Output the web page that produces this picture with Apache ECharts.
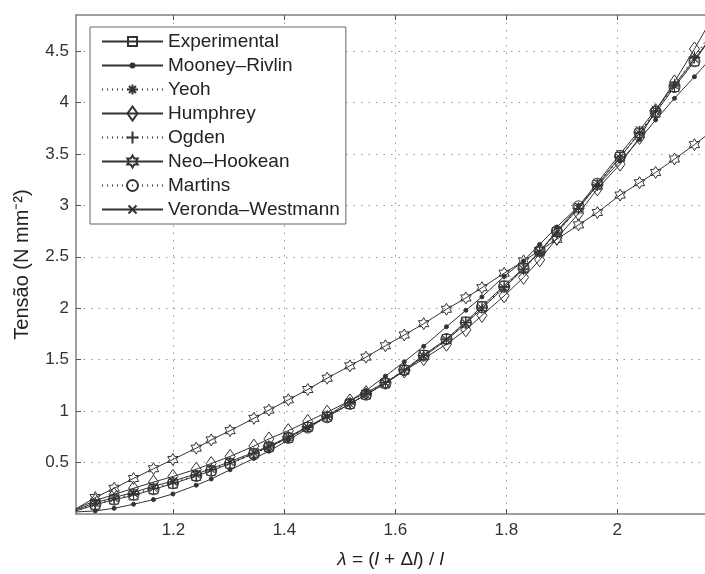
<!DOCTYPE html>
<html>
<head>
<meta charset="utf-8">
<script src="https://cdn.jsdelivr.net/npm/echarts@6/dist/echarts.min.js"></script>
<style>
html, body { margin: 0; padding: 0; background: #fff; }
#chart { width: 705px; height: 574px; }
</style>
</head>
<body>
<div id="chart"></div>
<script>
// stretch values (x) shared by all series
var lambda = [1.024, 1.059, 1.093, 1.128, 1.164, 1.199, 1.241, 1.268, 1.302, 1.345, 1.372, 1.407, 1.442, 1.477, 1.518, 1.547, 1.582, 1.616, 1.651, 1.692, 1.727, 1.756, 1.796, 1.831, 1.860, 1.891, 1.930, 1.964, 2.005, 2.040, 2.069, 2.103, 2.139, 2.175];

var experimental = [0.03, 0.09, 0.14, 0.18, 0.24, 0.295, 0.37, 0.42, 0.49, 0.59, 0.65, 0.74, 0.845, 0.945, 1.07, 1.16, 1.27, 1.40, 1.545, 1.70, 1.87, 2.02, 2.22, 2.39, 2.55, 2.74, 2.97, 3.20, 3.47, 3.70, 3.90, 4.15, 4.40, 4.68];
var mooneyRivlin = [0.02, 0.03, 0.055, 0.095, 0.14, 0.195, 0.28, 0.34, 0.43, 0.54, 0.61, 0.72, 0.83, 0.95, 1.10, 1.20, 1.34, 1.48, 1.63, 1.82, 1.98, 2.11, 2.31, 2.46, 2.62, 2.79, 2.99, 3.19, 3.43, 3.64, 3.83, 4.04, 4.25, 4.47];
var yeoh = [0.04, 0.10, 0.15, 0.20, 0.25, 0.31, 0.38, 0.43, 0.50, 0.59, 0.65, 0.74, 0.84, 0.94, 1.07, 1.16, 1.28, 1.40, 1.54, 1.70, 1.86, 2.00, 2.20, 2.38, 2.54, 2.73, 2.97, 3.19, 3.46, 3.70, 3.91, 4.16, 4.43, 4.72];
var humphrey = [0.05, 0.13, 0.19, 0.25, 0.31, 0.365, 0.435, 0.49, 0.56, 0.66, 0.73, 0.81, 0.90, 0.99, 1.10, 1.18, 1.28, 1.39, 1.51, 1.65, 1.79, 1.93, 2.12, 2.30, 2.47, 2.68, 2.92, 3.16, 3.40, 3.66, 3.92, 4.20, 4.52, 4.86];
var ogden = [0.03, 0.10, 0.15, 0.19, 0.25, 0.30, 0.37, 0.43, 0.50, 0.59, 0.66, 0.75, 0.85, 0.95, 1.08, 1.17, 1.28, 1.40, 1.54, 1.70, 1.86, 2.01, 2.21, 2.38, 2.55, 2.74, 2.97, 3.20, 3.47, 3.71, 3.92, 4.17, 4.44, 4.73];
var neoHookean = [0.05, 0.16, 0.25, 0.345, 0.44, 0.53, 0.64, 0.72, 0.81, 0.93, 1.01, 1.11, 1.21, 1.32, 1.44, 1.525, 1.635, 1.74, 1.85, 1.99, 2.10, 2.20, 2.34, 2.46, 2.56, 2.67, 2.81, 2.93, 3.10, 3.22, 3.32, 3.45, 3.59, 3.74];
var martins = [0.03, 0.09, 0.14, 0.19, 0.24, 0.30, 0.37, 0.42, 0.49, 0.58, 0.65, 0.74, 0.84, 0.94, 1.07, 1.16, 1.27, 1.40, 1.54, 1.70, 1.86, 2.01, 2.21, 2.39, 2.56, 2.75, 2.99, 3.21, 3.48, 3.71, 3.91, 4.15, 4.40, 4.67];
var verondaWestmann = [0.04, 0.11, 0.16, 0.21, 0.27, 0.32, 0.39, 0.44, 0.51, 0.60, 0.66, 0.75, 0.85, 0.95, 1.07, 1.16, 1.27, 1.39, 1.53, 1.69, 1.85, 2.00, 2.20, 2.38, 2.55, 2.75, 2.99, 3.22, 3.50, 3.73, 3.93, 4.17, 4.42, 4.68];

var xTicks = [1.2, 1.4, 1.6, 1.8, 2];
var yTicks = [0.5, 1, 1.5, 2, 2.5, 3, 3.5, 4, 4.5];

var font = 'Liberation Sans, Arial, Helvetica, sans-serif';
var ink = '#333';

// matlab-like markers, all drawn in a 14x14 box (the M0,0M14,14 keeps the box)
// so the legend shows them at the same size as in the plot
var box = 'path://M0,0M14,14';
var squarePath = box + 'M2.5,2.5L11.5,2.5L11.5,11.5L2.5,11.5Z';
var dotPath = box + 'M9,7A2,2,0,1,1,5,7A2,2,0,1,1,9,7Z';
var asteriskPath = box + 'M7,2L7,12M2,7L12,7M3.5,3.5L10.5,10.5M10.5,3.5L3.5,10.5';
var diamondPath = box + 'M7,0L12,7L7,14L2,7Z';
var plusPath = box + 'M7,1L7,13M1,7L13,7';
var hexPath = box + 'M7,1L8.732,4L12.196,4L10.464,7L12.196,10L8.732,10L7,13L5.268,10L1.804,10L3.536,7L1.804,4L5.268,4Z';
var circlePath = box + 'M12.5,7A5.5,5.5,0,1,1,1.5,7A5.5,5.5,0,1,1,12.5,7Z';
var crossPath = box + 'M3,3L11,11M11,3L3,11';

function pairs(values) {
    var out = [];
    for (var i = 0; i < lambda.length; i++) {
        out.push([lambda[i], values[i]]);
    }
    return out;
}

function makeSeries(name, values, symbol, dotted, filled) {
    return {
        name: name,
        type: 'line',
        data: pairs(values),
        symbol: symbol,
        symbolSize: 14,
        showAllSymbol: true,
        clip: true,
        lineStyle: {
            color: ink,
            width: 1,
            type: dotted ? [1, 4] : 'solid'
        },
        itemStyle: {
            color: filled ? ink : 'rgba(255,255,255,0)',
            borderColor: ink,
            borderWidth: 1
        },
        emphasis: { disabled: true }
    };
}

var chart = echarts.init(document.getElementById('chart'));

var option = {
    animation: false,
    textStyle: { fontFamily: font },
    grid: {
        left: 76,
        top: 15,
        right: -1,
        bottom: 53
    },
    legend: {
        orient: 'vertical',
        left: 90,
        top: 27,
        padding: [5, 6, 5, 11],
        itemWidth: 61,
        itemHeight: 17.5,
        itemGap: 5,
        backgroundColor: '#fff',
        borderColor: '#666',
        borderWidth: 1,
        borderRadius: 0,
        textStyle: {
            fontFamily: font,
            fontSize: 19,
            color: '#222',
            lineHeight: 19
        },
        data: ['Experimental', 'Mooney–Rivlin', 'Yeoh', 'Humphrey', 'Ogden', 'Neo–Hookean', 'Martins', 'Veronda–Westmann']
    },
    xAxis: [
        {
            type: 'value',
            min: 1.0243,
            max: 2.158,
            name: '{i|λ} = ({i|l} + Δ{i|l}) / {i|l}',
            nameLocation: 'middle',
            nameGap: 36,
            nameTextStyle: {
                fontFamily: font,
                fontSize: 19,
                color: '#222',
                rich: {
                    i: { fontFamily: font, fontSize: 19, fontStyle: 'italic', color: '#222' }
                }
            },
            axisLine: { show: true, onZero: false, lineStyle: { color: '#808080', width: 1.5 } },
            axisTick: { show: true, inside: true, length: 5, customValues: xTicks, lineStyle: { color: '#555' } },
            axisLabel: { customValues: xTicks, fontFamily: font, fontSize: 17, color: '#333', margin: 8 },
            splitLine: { show: true, lineStyle: { color: '#999', type: [1.5, 6], width: 1 } }
        },
        {
            type: 'value',
            position: 'top',
            min: 1.0243,
            max: 2.158,
            axisLine: { show: true, onZero: false, lineStyle: { color: '#808080', width: 1.5 } },
            axisTick: { show: true, inside: true, length: 5, customValues: xTicks, lineStyle: { color: '#555' } },
            axisLabel: { show: false },
            splitLine: { show: false }
        }
    ],
    yAxis: {
        type: 'value',
        min: 0,
        max: 4.85,
        name: 'Tensão (N mm⁻²)',
        nameLocation: 'middle',
        nameGap: 44,
        nameTextStyle: { fontFamily: font, fontSize: 20, color: '#222' },
        axisLine: { show: true, onZero: false, lineStyle: { color: '#808080', width: 1.5 } },
        axisTick: { show: true, inside: true, length: 5, customValues: yTicks, lineStyle: { color: '#555' } },
        axisLabel: { customValues: yTicks, fontFamily: font, fontSize: 17, color: '#333', margin: 7 },
        splitLine: { show: true, lineStyle: { color: '#999', type: [1.5, 6], width: 1 } }
    },
    series: [
        makeSeries('Experimental', experimental, squarePath, false, false),
        makeSeries('Mooney–Rivlin', mooneyRivlin, dotPath, false, true),
        makeSeries('Yeoh', yeoh, asteriskPath, true, false),
        makeSeries('Humphrey', humphrey, diamondPath, false, false),
        makeSeries('Ogden', ogden, plusPath, true, false),
        makeSeries('Neo–Hookean', neoHookean, hexPath, false, false),
        makeSeries('Martins', martins, circlePath, true, false),
        makeSeries('Veronda–Westmann', verondaWestmann, crossPath, false, false)
    ]
};

chart.setOption(option);
</script>
</body>
</html>
